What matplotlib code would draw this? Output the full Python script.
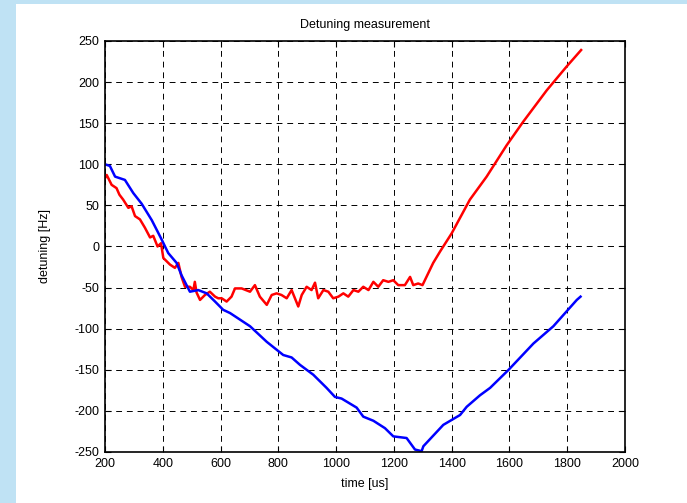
import matplotlib.pyplot as plt
from matplotlib.patches import Rectangle

plt.rcParams['font.family'] = ['Liberation Sans', 'DejaVu Sans']
plt.rcParams['axes.unicode_minus'] = False

# red trace (time [us], detuning [Hz])
red_t = [200, 206, 223, 240, 250, 263, 281, 292, 304, 321, 338, 356, 367, 382, 394,
         402, 425, 442, 454, 465, 477, 494, 506, 511, 517, 529, 546, 563, 581, 592,
         604, 621, 638, 650, 673, 702, 719, 736, 760, 777, 794, 811, 829, 846, 869,
         881, 898, 915, 927, 938, 956, 973, 990, 1008, 1025, 1042, 1060, 1077, 1094,
         1112, 1129, 1146, 1163, 1181, 1198, 1215, 1238, 1256, 1267, 1284, 1299,
         1336, 1360, 1400, 1463, 1521, 1590, 1648, 1729, 1798, 1848]
red_v = [83, 87, 75, 71, 63, 57, 47, 49, 37, 33, 23, 11, 13, 0, 4,
         -14, -22, -26, -20, -37, -49, -49, -53, -43, -56, -65, -59, -55, -61, -63,
         -63, -67, -61, -51, -51, -55, -47, -61, -71, -59, -57, -59, -63, -53, -73,
         -59, -49, -53, -44, -63, -53, -55, -63, -61, -57, -61, -53, -55, -49,
         -53, -43, -49, -41, -43, -41, -47, -47, -37, -47, -45, -47,
         -20, -6, 16, 57, 85, 123, 152, 190, 219, 239]

# blue trace
blue_t = [200, 217, 235, 269, 298, 327, 362, 394, 419, 448, 465, 494, 523, 552, 581,
          609, 633, 702, 760, 817, 846, 875, 921, 967, 996, 1019, 1071, 1094, 1129,
          1169, 1198, 1244, 1273, 1296, 1302, 1371, 1429, 1452, 1498, 1533, 1597,
          1683, 1752, 1833, 1846]
blue_v = [100, 98, 85, 81, 65, 52, 32, 10, -8, -20, -35, -55, -53, -57, -67,
          -77, -81, -97, -116, -132, -135, -144, -156, -172, -183, -185, -196, -207, -212,
          -221, -231, -233, -247, -249, -243, -217, -205, -195, -181, -172, -150,
          -118, -97, -65, -61]

fig = plt.figure(figsize=(6.87, 5.03), dpi=100, facecolor='#bfe2f4')
bg = Rectangle((16 / 687, 0), 1, 1 - 4 / 503, transform=fig.transFigure,
               facecolor='white', edgecolor='none', zorder=-10)
fig.add_artist(bg)
ax = fig.add_axes([0.1528, 0.1014, 0.7570, 0.8171])

ax.plot(red_t, red_v, color='red', lw=1.8)
ax.plot(blue_t, blue_v, color='blue', lw=1.8)

ax.set_xlim(200, 2000)
ax.set_ylim(-250, 250)
ax.set_xticks(range(200, 2001, 200))
ax.set_yticks(range(-250, 251, 50))
ax.grid(True, color='black', linestyle=(0, (6, 5)), lw=0.7)
ax.tick_params(direction='in', top=True, right=True, labelsize=9, length=4, width=0.8, pad=4)
for s in ax.spines.values():
    s.set_linewidth(1.2)

ax.set_title('Detuning measurement', fontsize=9, pad=9)
ax.set_xlabel('time [us]', fontsize=9, labelpad=6)
ax.set_ylabel('detuning [Hz]', fontsize=9, labelpad=17)

fig.savefig('out.png', dpi=100, facecolor=fig.get_facecolor())
